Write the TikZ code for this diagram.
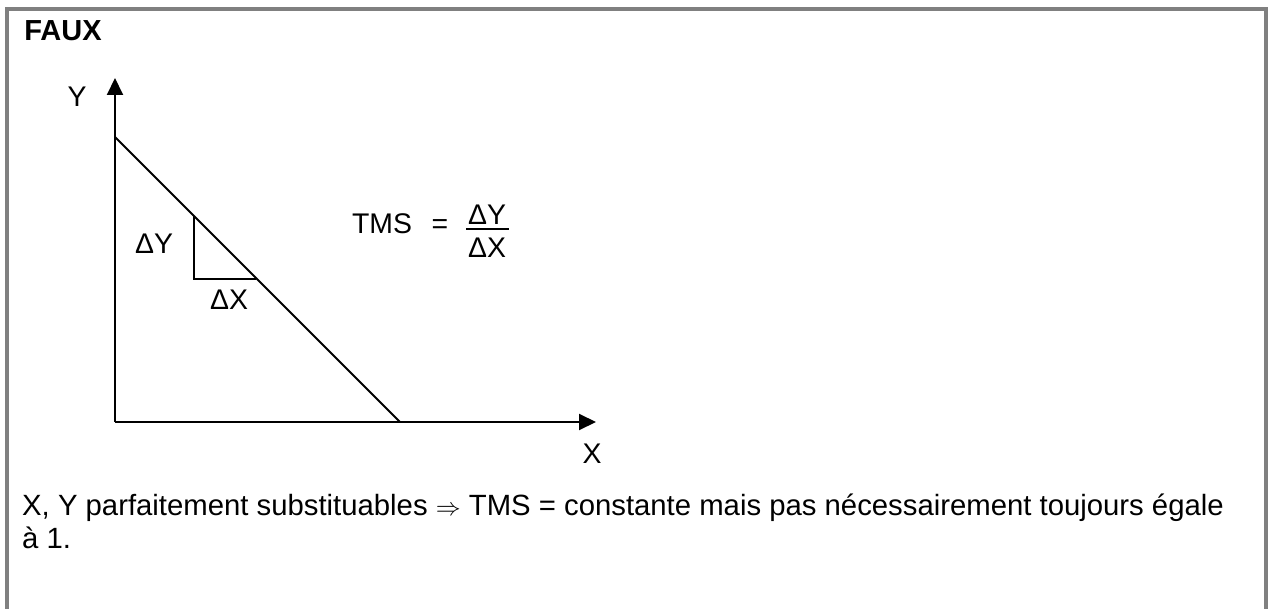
\documentclass[tikz,border=0pt]{standalone}
\usepackage{fontspec}
\setmainfont{Liberation Sans}
\usepackage{tikz}
\usetikzlibrary{arrows.meta,calc,positioning}
\definecolor{framegray}{RGB}{128,128,128}

\begin{document}
\begin{tikzpicture}[x=1pt,y=-1pt,
  axis/.style={line width=2pt,-{Triangle[length=17pt,width=16pt]}},
  lbl/.style={inner sep=0pt,font=\fontsize{28.4}{32}\selectfont},
  txt/.style={inner sep=0pt,anchor=base west,font=\fontsize{29.3}{32}\selectfont}]
  \useasboundingbox (0,0) rectangle (1273,609);
  \fill[white] (0,0) rectangle (1273,609);
  \draw[framegray,line width=4pt] (7,609)--(7,9)--(1266,9)--(1266,609);
  \node[inner sep=0pt,font=\fontsize{29}{32}\selectfont\bfseries] (faux) at (63,31) {FAUX};
  % axes and budget line
  \coordinate (O) at (115,422); \coordinate (ytip) at (115,78); \coordinate (xtip) at (596,422);
  \coordinate (ya) at (115,137); \coordinate (xa) at (400,422);
  \draw[axis] (O)--(ytip); \draw[axis] (O)--(xtip);
  \draw[line width=2pt] (ya)--(xa);
  \node[lbl] (ylab) at (77,97) {Y}; \node[lbl] (xlab) at (592,454) {X};
  % small triangle
  \coordinate (t1) at (194,216); \coordinate (t2) at (194,279); \coordinate (t3) at (256,279);
  \draw[line width=2pt] (t1)--(t2)--(t3);
  \node[lbl] (dy) at (154,244) {ΔY}; \node[lbl] (dx) at (229,300) {ΔX};
  % slope formula
  \node[lbl] (tms) at (382,224) {TMS}; \node[lbl] (eq) at (440,227) {=};
  \node[lbl] (num) at (487,215) {ΔY}; \node[lbl] (den) at (487,248) {ΔX};
  \coordinate (barl) at (466,229); \coordinate (barr) at (509,229);
  \draw[line width=1.5pt] (barl)--(barr);
  \node[txt] (line1) at (22,515) {X, Y parfaitement substituables $\Rightarrow$ TMS = constante mais pas nécessairement toujours égale};
  \node[txt] (line2) at (22,548) {à 1.};
\end{tikzpicture}
\end{document}
